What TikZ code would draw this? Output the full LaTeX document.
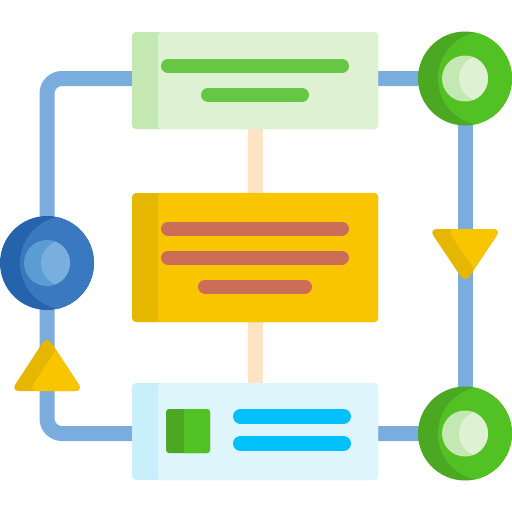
\documentclass[tikz,border=0pt]{standalone}
\usetikzlibrary{backgrounds}
\definecolor{loopblue}{HTML}{7AACDD}
\definecolor{gLight}{HTML}{DEF1D2}
\definecolor{gStrip}{HTML}{C4E8B2}
\definecolor{gBar}{HTML}{66C744}
\definecolor{yMain}{HTML}{F9C500}
\definecolor{yDark}{HTML}{E5B700}
\definecolor{rBar}{HTML}{CC6E57}
\definecolor{peach}{HTML}{FFE4C4}
\definecolor{cBox}{HTML}{DFF5FC}
\definecolor{cStrip}{HTML}{C9EEFC}
\definecolor{cBar}{HTML}{02C0FC}
\definecolor{gDark}{HTML}{4AA823}
\definecolor{gMain}{HTML}{52C124}
\definecolor{bDark}{HTML}{2563AD}
\definecolor{bMain}{HTML}{3A78C0}
\definecolor{bInL}{HTML}{5B9CD2}
\definecolor{bInR}{HTML}{7AAEDF}
\newcommand\myroundel[5]{% node, main, inner-left, inner-right
  \begin{scope}
    \clip (#1.center) circle[radius=47];
    \fill[#2] ([xshift=20pt]#1.center) circle[radius=47];
  \end{scope}
  \fill[#3] (#1.center) circle[radius=23];
  \begin{scope}
    \clip (#1.center) circle[radius=23];
    \fill[#4] ([xshift=17pt]#1.center) circle[radius=23];
  \end{scope}}
\begin{document}
\begin{tikzpicture}[x=1pt,y=-1pt,
  boxnode/.style={rectangle, inner sep=0pt, minimum width=246pt, rounded corners=4pt},
  roundnode/.style={circle, inner sep=0pt, minimum size=94pt},
  loopline/.style={draw=loopblue, line width=15pt},
  peachline/.style={draw=peach, line width=15pt},
  bar/.style={line width=14pt, line cap=round},
  cbar/.style={line width=15pt, line cap=round, draw=cBar}]
\useasboundingbox (0,0) rectangle (512,512);

% boxes
\node[boxnode, fill=gStrip, minimum height=97pt] (top) at (255,80.5) {};
\fill[gLight, rounded corners=4pt] ([xshift=26pt]top.north west) rectangle (top.south east);
\draw[bar, gBar] (168,66) -- (342,66);
\draw[bar, gBar] (208,95) -- (302,95);

\node[boxnode, fill=yDark, minimum height=129pt] (mid) at (255,257.5) {};
\fill[yMain, rounded corners=4pt] ([xshift=26pt]mid.north west) rectangle (mid.south east);
\draw[bar, rBar] (168,228.5) -- (342,228.5);
\draw[bar, rBar] (168,257.5) -- (342,257.5);
\draw[bar, rBar] (205,286.5) -- (305,286.5);

\node[boxnode, fill=cStrip, minimum height=97pt] (bot) at (255,431.5) {};
\fill[cBox, rounded corners=4pt] ([xshift=26pt]bot.north west) rectangle (bot.south east);
\fill[gDark, rounded corners=3pt] (166,409) rectangle (210,453);
\begin{scope}
  \clip[rounded corners=3pt] (166,409) rectangle (210,453);
  \fill[gMain] (184,400) rectangle (220,460);
\end{scope}
\draw[cbar] (240.5,416.5) -- (343.5,416.5);
\draw[cbar] (240.5,443.5) -- (343.5,443.5);

% circles
\node[roundnode, fill=gDark] (g1) at (465,78.5) {};
\myroundel{g1}{gMain}{gStrip}{gLight}{}
\node[roundnode, fill=gDark] (g2) at (465,433.5) {};
\myroundel{g2}{gMain}{gStrip}{gLight}{}
\node[roundnode, fill=bDark] (b1) at (47,263) {};
\myroundel{b1}{bMain}{bInL}{bInR}{}

% triangles
\fill[yDark, rounded corners=8pt] (47,336) -- (83,391) -- (11,391) -- cycle;
\begin{scope}
  \clip[rounded corners=8pt] (47,336) -- (83,391) -- (11,391) -- cycle;
  \fill[yMain, rounded corners=8pt] (65,336) -- (101,391) -- (29,391) -- cycle;
\end{scope}
\fill[yDark, rounded corners=8pt] (429,229) -- (501,229) -- (465,283) -- cycle;
\begin{scope}
  \clip[rounded corners=8pt] (429,229) -- (501,229) -- (465,283) -- cycle;
  \fill[yMain, rounded corners=8pt] (447,229) -- (519,229) -- (483,283) -- cycle;
\end{scope}

% connectors
\coordinate (tl) at (47,78.5);
\coordinate (bl) at (47,433.5);
\begin{pgfonlayer}{background}
  \draw[peachline] (top.south) -- (bot.north);
  \draw[loopline, rounded corners=15pt] (g1.center) -- (tl) -- (bl) -- (g2.center);
  \draw[loopline] (g1.center) -- (g2.center);
\end{pgfonlayer}
\end{tikzpicture}
\end{document}
